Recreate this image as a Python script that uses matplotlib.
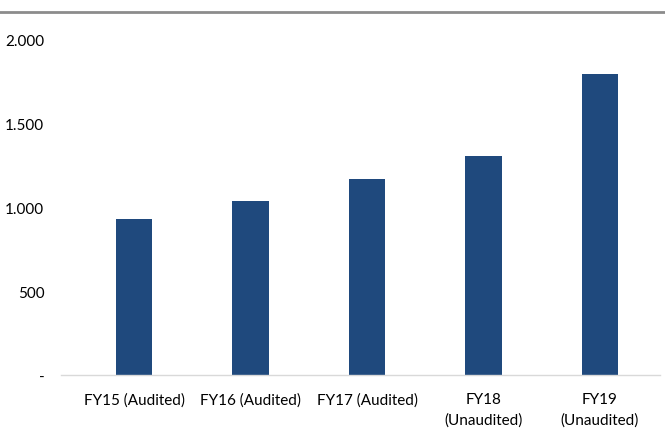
import matplotlib
matplotlib.use("Agg")
import matplotlib.pyplot as plt
from matplotlib.ticker import FuncFormatter
from matplotlib.lines import Line2D

categories = ["FY15 (Audited)", "FY16 (Audited)", "FY17 (Audited)", "FY18\n(Unaudited)", "FY19\n(Unaudited)"]
values = [931, 1037, 1170, 1309, 1795]
yticks = [0, 500, 1000, 1500, 2000]

plt.rcParams['font.family'] = ['Lato', 'DejaVu Sans']

fig = plt.figure(figsize=(6.65, 4.31), dpi=100)
ax = fig.add_axes([61/665, 1-376/431, (660-61)/665, (376-41)/431])

x = list(range(len(categories)))
ax.bar(x, values, width=0.31, color="#1F497D", zorder=2)

ax.set_ylim(0, 2000)
ax.set_xlim(-0.627, 4.515)
ax.set_yticks(yticks)

def fmt(v, pos):
    if v == 0:
        return "-"
    return f"{int(v):,}".replace(",", ".")
ax.yaxis.set_major_formatter(FuncFormatter(fmt))
ax.set_xticks(x)
ax.set_xticklabels(categories, fontsize=11, linespacing=1.52)
ax.tick_params(axis='y', length=0, pad=12, labelsize=11)
ax.tick_params(axis='x', length=0, pad=12.5)
for s in ["top", "right", "left"]:
    ax.spines[s].set_visible(False)
ax.spines["bottom"].set_color("#D9D9D9")
ax.spines["bottom"].set_linewidth(1)

fig.add_artist(Line2D([0, 1], [1-13/431, 1-13/431], transform=fig.transFigure, color="#8C8C8C", linewidth=2))

fig.savefig("out.png", dpi=100)
